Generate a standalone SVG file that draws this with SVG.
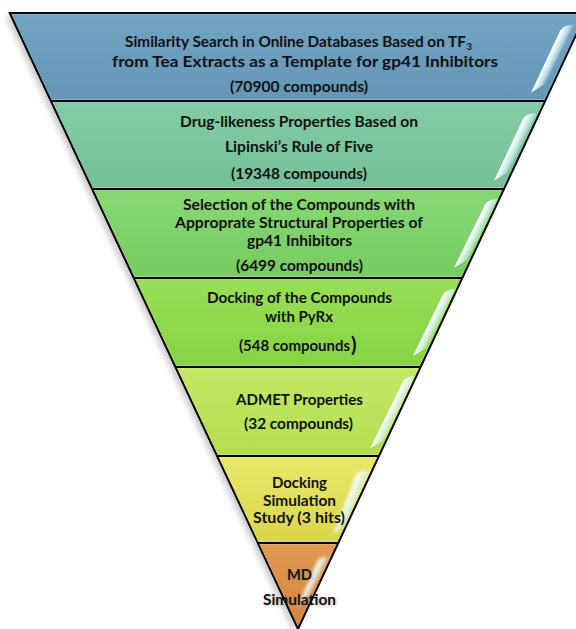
<svg xmlns="http://www.w3.org/2000/svg" width="576" height="629" viewBox="0 0 576 629">
<defs>
  <style>
    .t { font-family: "Lato", "Open Sans", "Liberation Sans", sans-serif; font-weight: 700; font-size: 16px; fill: #111; text-anchor: middle; }
    .s { font-size: 15px; }
    .band { stroke: #ffffff; stroke-opacity: 0.28; stroke-width: 3; }
    .edge { fill: none; stroke: #000; stroke-width: 2; stroke-linejoin: miter; }
    .hl { fill: url(#hlg); }
  </style>
  <linearGradient id="g1" x1="0" y1="0" x2="0" y2="1"><stop offset="0" stop-color="#72a4c3"/><stop offset="1" stop-color="#6596b5"/></linearGradient>
  <linearGradient id="g2" x1="0" y1="0" x2="0" y2="1"><stop offset="0" stop-color="#83cca5"/><stop offset="1" stop-color="#75bf99"/></linearGradient>
  <linearGradient id="g3" x1="0" y1="0" x2="0" y2="1"><stop offset="0" stop-color="#87d873"/><stop offset="1" stop-color="#77cb62"/></linearGradient>
  <linearGradient id="g4" x1="0" y1="0" x2="0" y2="1"><stop offset="0" stop-color="#98df56"/><stop offset="1" stop-color="#87d343"/></linearGradient>
  <linearGradient id="g5" x1="0" y1="0" x2="0" y2="1"><stop offset="0" stop-color="#c5e867"/><stop offset="1" stop-color="#b4dd50"/></linearGradient>
  <linearGradient id="g6" x1="0" y1="0" x2="0" y2="1"><stop offset="0" stop-color="#eae86b"/><stop offset="1" stop-color="#d9d64a"/></linearGradient>
  <linearGradient id="g7" x1="0" y1="0" x2="0" y2="1"><stop offset="0" stop-color="#e39b53"/><stop offset="1" stop-color="#d3833a"/></linearGradient>
  <linearGradient id="hlg" x1="0" y1="0" x2="1" y2="0">
    <stop offset="0" stop-color="#ffffff" stop-opacity="1"/>
    <stop offset="0.25" stop-color="#f4feff" stop-opacity="0.95"/>
    <stop offset="0.6" stop-color="#d8f6fa" stop-opacity="0.75"/>
    <stop offset="1" stop-color="#ffffff" stop-opacity="0.1"/>
  </linearGradient>
  <filter id="shadow" x="-10%" y="-10%" width="120%" height="120%"><feGaussianBlur stdDeviation="3"/></filter>
  <filter id="soft" x="-50%" y="-50%" width="200%" height="200%"><feGaussianBlur stdDeviation="1.4"/></filter>
  <filter id="tglow" x="-20%" y="-50%" width="140%" height="200%"><feGaussianBlur stdDeviation="1.5"/></filter>
</defs>

<rect width="576" height="629" fill="#ffffff"/>
<polygon points="5.7,16 582.3,16 294,632" fill="#000" opacity="0.22" filter="url(#shadow)"/>

<g id="band1">
  <polygon class="band" points="9.7,13 586.3,13 545.1,101 50.9,101" fill="url(#g1)"/>
  <path class="hl" d="M -5,8 Q -4,0 5,-3 L 5,62 L -4,76 Z" transform="translate(568,26) rotate(26)"/>
  <text class="t" x="125" y="47" style="text-anchor:start" textLength="341" lengthAdjust="spacingAndGlyphs">Similarity Search in Online Databases Based on TF</text>
  <text class="t" x="466.5" y="49.5" style="text-anchor:start;font-size:9.5px">3</text>
  <text class="t" x="305" y="67" textLength="386" lengthAdjust="spacingAndGlyphs">from Tea Extracts as a Template for gp41 Inhibitors</text>
  <text class="t" x="299" y="92" textLength="138" lengthAdjust="spacingAndGlyphs">(70900 compounds)</text>
</g>

<g id="band2">
  <polygon class="band" points="50.9,101 545.1,101 503.9,189 92.1,189" fill="url(#g2)"/>
  <path class="hl" d="M -5,8 Q -4,0 5,-3 L 5,62 L -4,76 Z" transform="translate(531,114) rotate(26)"/>
  <text class="t" x="299" y="127" textLength="238" lengthAdjust="spacingAndGlyphs">Drug-likeness Properties Based on</text>
  <text class="t" x="299" y="152" textLength="148" lengthAdjust="spacingAndGlyphs">Lipinski’s Rule of Five</text>
  <text class="t" x="299" y="179" textLength="136" lengthAdjust="spacingAndGlyphs">(19348 compounds)</text>
</g>

<g id="band3">
  <polygon class="band" points="92.1,189 503.9,189 462.3,278 133.7,278" fill="url(#g3)"/>
  <path class="hl" d="M -5,8 Q -4,0 5,-3 L 5,64 L -4,78 Z" transform="translate(493,200) rotate(27)"/>
  <text class="t" x="299" y="210" textLength="232" lengthAdjust="spacingAndGlyphs">Selection of the Compounds with</text>
  <text class="t" x="299" y="228" textLength="248" lengthAdjust="spacingAndGlyphs">Approprate Structural Properties of</text>
  <text class="t" x="299.5" y="246" textLength="105" lengthAdjust="spacingAndGlyphs">gp41 Inhibitors</text>
  <text class="t" x="299.5" y="271" textLength="127" lengthAdjust="spacingAndGlyphs">(6499 compounds)</text>
</g>

<g id="band4">
  <polygon class="band" points="133.7,278 462.3,278 420.6,367 175.4,367" fill="url(#g4)"/>
  <path class="hl" d="M -5,8 Q -4,0 5,-3 L 5,62 L -4,76 Z" transform="translate(451,290) rotate(27)"/>
  <text class="t" x="299.5" y="303" textLength="185" lengthAdjust="spacingAndGlyphs">Docking of the Compounds</text>
  <text class="t" x="299" y="322" textLength="68" lengthAdjust="spacingAndGlyphs">with PyRx</text>
  <text class="t" x="239" y="351" style="text-anchor:start" textLength="111" lengthAdjust="spacingAndGlyphs">(548 compounds</text>
  <text class="t" x="351" y="352" style="text-anchor:start;font-size:20px">)</text>
</g>

<g id="band5">
  <polygon class="band" points="175.4,367 420.6,367 379,456 217,456" fill="url(#g5)"/>
  <path class="hl" d="M -5,8 Q -4,0 5,-3 L 5,68 L -4,82 Z" transform="translate(411,377) rotate(27)"/>
  <text class="t" x="299.5" y="405" textLength="127" lengthAdjust="spacingAndGlyphs">ADMET Properties</text>
  <text class="t" x="298.5" y="429" textLength="109" lengthAdjust="spacingAndGlyphs">(32 compounds)</text>
</g>

<g id="band6">
  <polygon class="band" points="217,456 379,456 338.2,543 257.8,543" fill="url(#g6)"/>
  <path class="hl" d="M -6,8 Q -4,0 6,-2 L 6,54 L -3,72 Z" transform="translate(365,470) rotate(24)" filter="url(#soft)"/>
  <text class="t s" x="299.5" y="488" textLength="55" lengthAdjust="spacingAndGlyphs">Docking</text>
  <text class="t s" x="299.5" y="505.5" textLength="73" lengthAdjust="spacingAndGlyphs">Simulation</text>
  <text class="t s" x="299" y="523" textLength="92" lengthAdjust="spacingAndGlyphs">Study (3 hits)</text>
</g>

<g id="band7">
  <polygon class="band" points="257.8,543 338.2,543 298,629" fill="url(#g7)"/>
  <path class="hl" d="M -4,6 Q -3,0 5,-2 L 4,40 L -2,58 Z" transform="translate(324,557) rotate(26)" filter="url(#soft)"/>
  <text class="t" x="300.5" y="581" textLength="25" lengthAdjust="spacingAndGlyphs" style="fill:#888" opacity="0.5" filter="url(#tglow)">MD</text>
  <text class="t" x="300.5" y="606" textLength="73" lengthAdjust="spacingAndGlyphs" style="fill:#888" opacity="0.5" filter="url(#tglow)">Simulation</text>
  <text class="t" x="299.5" y="580" textLength="25" lengthAdjust="spacingAndGlyphs">MD</text>
  <text class="t" x="299.5" y="605" textLength="73" lengthAdjust="spacingAndGlyphs">Simulation</text>
</g>

<g id="connectors">
  <polygon class="edge" points="9.7,13 586.3,13 298,629"/>
  <line class="edge" x1="50.9" y1="101" x2="545.1" y2="101"/>
  <line class="edge" x1="92.1" y1="189" x2="503.9" y2="189"/>
  <line class="edge" x1="133.7" y1="278" x2="462.3" y2="278"/>
  <line class="edge" x1="175.4" y1="367" x2="420.6" y2="367"/>
  <line class="edge" x1="217" y1="456" x2="379" y2="456"/>
  <line class="edge" x1="257.8" y1="543" x2="338.2" y2="543"/>
</g>
</svg>
